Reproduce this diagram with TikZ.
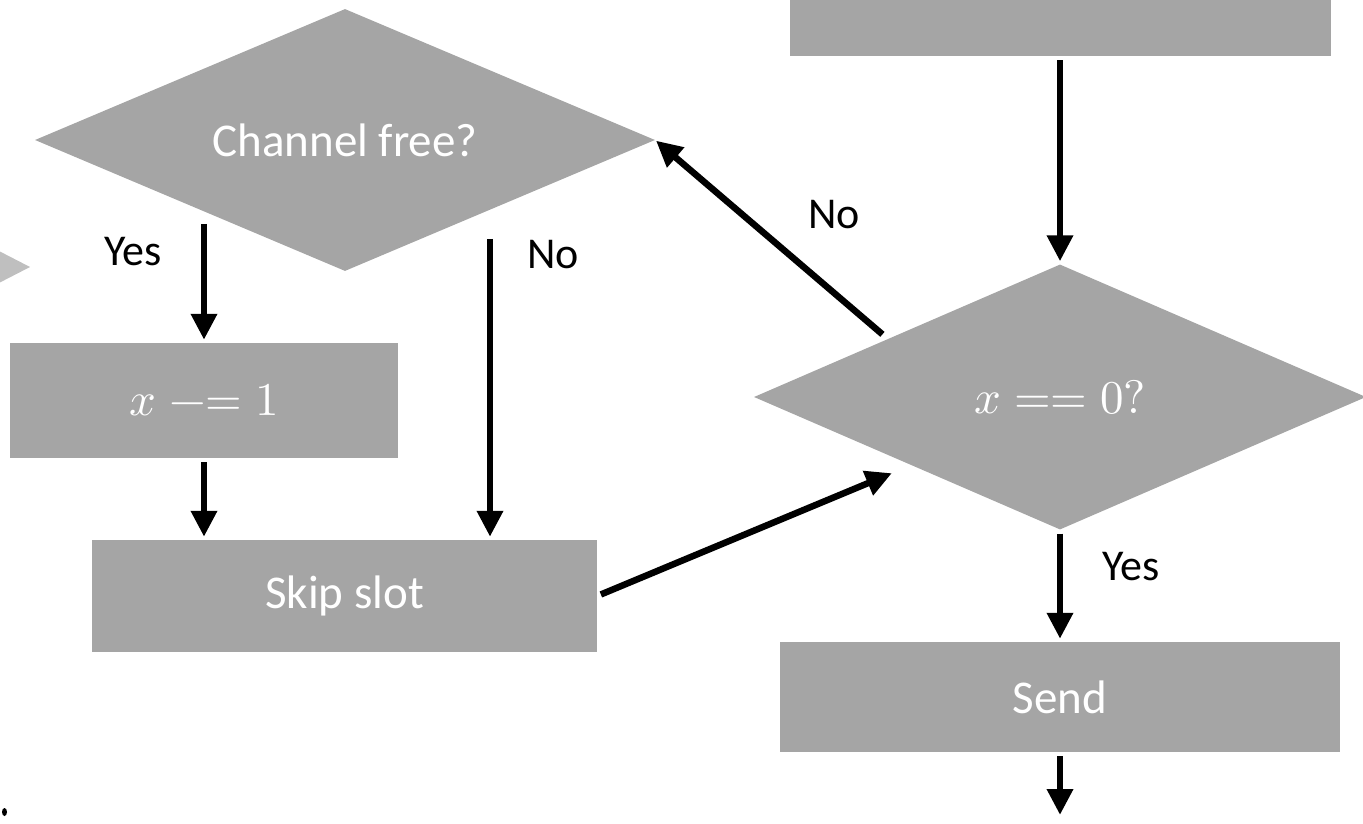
\documentclass[tikz,border=0pt]{standalone}
\usepackage{fontspec}
\usepackage{unicode-math}
\setmainfont{Carlito}
\setmathfont{Latin Modern Math}
\usepackage{tikz}
\usetikzlibrary{arrows.meta,calc,positioning,shapes.geometric}
\definecolor{boxgrey}{HTML}{A5A5A5}
\definecolor{tipgrey}{HTML}{BFBFBF}

\begin{document}
\begin{tikzpicture}[x=1pt, y=1pt,
  procbox/.style={fill=boxgrey, inner sep=0pt, text=white, font=\fontsize{47}{56}\selectfont},
  decision/.style={diamond, aspect=2.37, fill=boxgrey, inner sep=0pt, text=white, font=\fontsize{47}{56}\selectfont},
  flow/.style={-{Triangle[length=26pt,width=25pt]}, line width=6.5pt, shorten <=4pt, shorten >=3pt},
  tag/.style={font=\fontsize{44}{52}\selectfont, inner sep=0pt}
]
  \clip (0,0) rectangle (1363,823);

  % Boxes
  \node[procbox, minimum width=541, minimum height=112] (start) at (1060,823) {};
  \node[decision, minimum width=620, minimum height=262] (chf) at (345,683) {Channel free?};
  \node[procbox, minimum width=388, minimum height=115] (dec) at (204,422.5) {$x \mathrel{{-}{=}} 1$};
  \node[procbox, minimum width=505, minimum height=112] (skip) at (344.5,227) {Skip slot};
  \node[decision, minimum width=612, minimum height=265] (xz) at (1060,426) {$x \mathrel{{=}{=}} 0?$};
  \node[procbox, minimum width=560, minimum height=110] (send) at (1060,126) {Send};

  % Cut-off bits at the left edge
  \fill[tipgrey] (-3,573) -- (30,556) -- (-3,539) -- cycle;
  \fill (4.5,11) ellipse (2.5 and 4);

  % Free ends
  \coordinate (yestop) at (204,603);
  \coordinate (notop) at (490,588);
  \coordinate (out) at (1060,8);

  % Arrows
  \draw[flow] (start.south) -- (xz.north);
  \draw[flow] (yestop) -- (dec.north);
  \draw[flow] (dec.south) -- (skip.north -| dec.south);
  \draw[flow] (notop) -- (skip.north -| notop);
  \draw[flow] (skip.east) -- ($(xz.west)!0.46!(xz.south)+(0,-14)$);
  \draw[flow, shorten >=1pt] ($(xz.west)!0.43!(xz.north)+(0,3)$) -- (chf.east);
  \draw[flow] (xz.south) -- (send.north);
  \draw[flow, shorten >=0pt] (send.south) -- (out);

  % Labels
  \node[tag] (yes1) at (133,571) {Yes};
  \node[tag] (no1) at (553,568) {No};
  \node[tag] (no2) at (834,608) {No};
  \node[tag] (yes2) at (1131,256) {Yes};
\end{tikzpicture}
\end{document}
